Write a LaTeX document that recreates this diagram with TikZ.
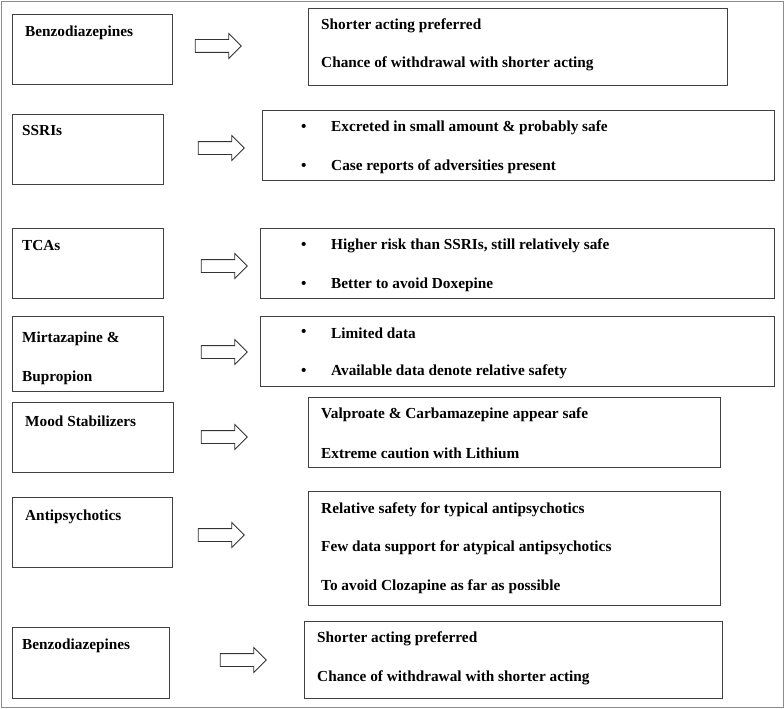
\documentclass[tikz,border=0pt]{standalone}
\usepackage{fontspec}
\setmainfont{Liberation Serif}
\usetikzlibrary{shapes.arrows}
\begin{document}
\begin{tikzpicture}[x=1pt,y=-1pt,
  box/.style={draw=black!75,line width=0.8pt},
  lbl/.style={anchor=west,inner sep=0pt,font=\fontsize{15.3}{18}\selectfont\bfseries},
  blk/.style={single arrow,draw=black!80,line width=0.8pt,text height=6pt,text depth=6pt,text width=0pt,minimum height=46pt,single arrow head extend=6pt,inner sep=0pt}]
\useasboundingbox (0,0) rectangle (784,709);
\draw[black!45,line width=0.8pt] (1,1) rectangle (783,707);
% left boxes
\draw[box] (12,14) rectangle (172,84);   \node[lbl] (l1) at (25,33) {Benzodiazepines};
\draw[box] (12,114) rectangle (163,184); \node[lbl] (l2) at (22,131) {SSRIs};
\draw[box] (12,228) rectangle (163,298); \node[lbl] (l3) at (22,246) {TCAs};
\draw[box] (12,316) rectangle (163,391); \node[lbl] (l4a) at (22,339) {Mirtazapine \&};
\node[lbl] (l4b) at (22,378) {Bupropion};
\draw[box] (12,402) rectangle (173,472); \node[lbl] (l5) at (25,421) {Mood Stabilizers};
\draw[box] (12,497) rectangle (172,567); \node[lbl] (l6) at (25,517) {Antipsychotics};
\draw[box] (12,627) rectangle (169,698); \node[lbl] (l7) at (22,646) {Benzodiazepines};
% arrows
\node[blk] (a1) at (215,46) {};
\node[blk] (a2) at (218,148) {};
\node[blk] (a3) at (221,266) {};
\node[blk] (a4) at (221,352) {};
\node[blk] (a5) at (221,437) {};
\node[blk] (a6) at (218,535) {};
\node[blk] (a7) at (240,660) {};
% right boxes
\draw[box] (308,8) rectangle (727,85);
\node[lbl] (r1a) at (321,26) {Shorter acting preferred};
\node[lbl] (r1b) at (321,64) {Chance of withdrawal with shorter acting};
\draw[box] (262,110) rectangle (774,180);
\node[lbl] (b2a) at (301,128) {•}; \node[lbl] (r2a) at (331,128) {Excreted in small amount \& probably safe};
\node[lbl] (b2b) at (301,167) {•}; \node[lbl] (r2b) at (331,167) {Case reports of adversities present};
\draw[box] (260,228) rectangle (774,298);
\node[lbl] (b3a) at (301,246) {•}; \node[lbl] (r3a) at (331,246) {Higher risk than SSRIs, still relatively safe};
\node[lbl] (b3b) at (301,285) {•}; \node[lbl] (r3b) at (331,285) {Better to avoid Doxepine};
\draw[box] (260,316) rectangle (774,386);
\node[lbl] (b4a) at (301,333) {•}; \node[lbl] (r4a) at (331,333) {Limited data};
\node[lbl] (b4b) at (301,372) {•}; \node[lbl] (r4b) at (331,372) {Available data denote relative safety};
\draw[box] (308,397) rectangle (720,467);
\node[lbl] (r5a) at (321,415) {Valproate \& Carbamazepine appear safe};
\node[lbl] (r5b) at (321,453) {Extreme caution with Lithium};
\draw[box] (308,491) rectangle (720,605);
\node[lbl] (r6a) at (321,510) {Relative safety for typical antipsychotics};
\node[lbl] (r6b) at (321,548) {Few data support for atypical antipsychotics};
\node[lbl] (r6c) at (321,587) {To avoid Clozapine as far as possible};
\draw[box] (304,621) rectangle (722,698);
\node[lbl] (r7a) at (317,639) {Shorter acting preferred};
\node[lbl] (r7b) at (317,678) {Chance of withdrawal with shorter acting};
\end{tikzpicture}
\end{document}
